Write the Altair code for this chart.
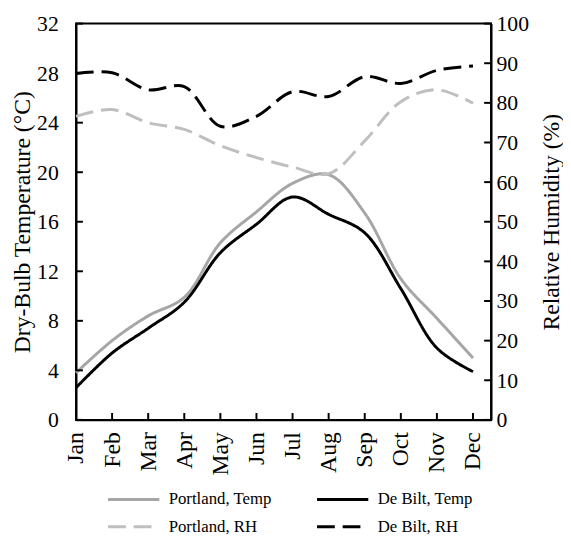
import altair as alt
import pandas as pd

months = ["Jan", "Feb", "Mar", "Apr", "May", "Jun", "Jul", "Aug", "Sep", "Oct", "Nov", "Dec"]
portland_temp = [3.8, 6.4, 8.4, 9.9, 14.3, 16.8, 19.1, 19.8, 16.7, 11.4, 8.2, 5.0]
debilt_temp = [2.6, 5.4, 7.4, 9.5, 13.5, 15.8, 18.0, 16.6, 15.1, 10.6, 5.8, 3.9]
portland_rh = [76.6, 78.3, 75.0, 73.3, 69.2, 66.2, 63.8, 62.1, 70.4, 80.3, 83.3, 79.9]
debilt_rh = [87.4, 87.6, 83.3, 84.1, 74.1, 76.6, 82.8, 81.6, 86.6, 84.9, 88.2, 89.3]

series_names = ["Portland, Temp", "De Bilt, Temp", "Portland, RH", "De Bilt, RH"]
series_colors = ["#A6A6A6", "#000000", "#BFBFBF", "#000000"]
series_dash = [[1, 0], [1, 0], [18, 8], [18, 8]]

temp_ticks = [0, 4, 8, 12, 16, 20, 24, 28, 32]
rh_ticks = [0, 10, 20, 30, 40, 50, 60, 70, 80, 90, 100]

rows = []
for i, m in enumerate(months):
    rows.append(dict(idx=i, series="Portland, Temp", kind="Temp", value=portland_temp[i]))
    rows.append(dict(idx=i, series="De Bilt, Temp", kind="Temp", value=debilt_temp[i]))
    rows.append(dict(idx=i, series="Portland, RH", kind="RH", value=portland_rh[i]))
    rows.append(dict(idx=i, series="De Bilt, RH", kind="RH", value=debilt_rh[i]))
df = pd.DataFrame(rows)

W, H = 421, 402
FONT = "Liberation Serif"
FS = 22
TFS = 24

label_expr = "[" + ",".join(f"'{m}'" for m in months) + "][datum.value]"

x_enc = alt.X(
    "idx:Q",
    scale=alt.Scale(domain=[0, 11.5], nice=False, zero=False),
    axis=alt.Axis(
        values=list(range(12)), labelExpr=label_expr, title=None,
        labelAngle=270, labelPadding=12, labelFontSize=24, ticks=False, grid=False,
    ),
)

legend = alt.Legend(
    title=None, orient="none", legendX=44, legendY=468, columns=2, direction="horizontal",
    symbolType="M-2,0H2", symbolSize=676, symbolStrokeWidth=3,
    labelFont=FONT, labelFontSize=17, labelColor="black", labelLimit=300,
    columnPadding=39, rowPadding=5, labelOffset=21,
)
color_enc = alt.Color("series:N", scale=alt.Scale(domain=series_names, range=series_colors), legend=legend)
dash_enc = alt.StrokeDash("series:N", scale=alt.Scale(domain=series_names, range=series_dash), legend=legend)

base = alt.Chart(df)

temp_lines = base.transform_filter("datum.kind == 'Temp'").mark_line(
    interpolate="catmull-rom", strokeWidth=3
).encode(
    x=x_enc,
    y=alt.Y("value:Q", scale=alt.Scale(domain=[0, 32], nice=False),
            axis=alt.Axis(orient="left", values=temp_ticks, title="Dry-Bulb Temperature (°C)",
                          ticks=False, grid=False, labelPadding=18, titlePadding=2)),
    color=color_enc, strokeDash=dash_enc,
)

rh_lines = base.transform_filter("datum.kind == 'RH'").mark_line(
    interpolate="catmull-rom", strokeWidth=3
).encode(
    x=x_enc,
    y=alt.Y("value:Q", scale=alt.Scale(domain=[0, 100], nice=False),
            axis=alt.Axis(orient="right", values=rh_ticks, title="Relative Humidity (%)",
                          ticks=False, grid=False, labelPadding=5, titlePadding=11,
                          titleAngle=270, titleBaseline="top")),
    color=color_enc, strokeDash=dash_enc,
)

left_ticks = alt.Chart(pd.DataFrame({"v": temp_ticks})).mark_rule(color="black", strokeWidth=2).encode(
    y=alt.Y("v:Q", scale=alt.Scale(domain=[0, 32], nice=False), axis=None),
    x=alt.value(0), x2=alt.value(7),
)
right_ticks = alt.Chart(pd.DataFrame({"v": rh_ticks})).mark_rule(color="black", strokeWidth=2).encode(
    y=alt.Y("v:Q", scale=alt.Scale(domain=[0, 100], nice=False), axis=None),
    x=alt.value(W - 7), x2=alt.value(W),
)
bottom_ticks = alt.Chart(pd.DataFrame({"idx": list(range(12))})).mark_rule(color="black", strokeWidth=2).encode(
    x=x_enc,
    y=alt.value(H - 7), y2=alt.value(H),
)

chart = alt.layer(temp_lines, rh_lines, left_ticks, right_ticks, bottom_ticks).resolve_scale(
    y="independent"
).properties(
    width=W, height=H, padding={"left": 3, "top": 1, "right": 0, "bottom": 0}
).configure_view(
    stroke="black", strokeWidth=2
).configure_axis(
    labelFont=FONT, labelFontSize=FS, labelColor="black",
    titleFont=FONT, titleFontSize=TFS, titleColor="black", titleFontWeight="normal",
    domainColor="black", domainWidth=2,
)

chart.save("out.html", embed_options={"renderer": "svg", "actions": False})
